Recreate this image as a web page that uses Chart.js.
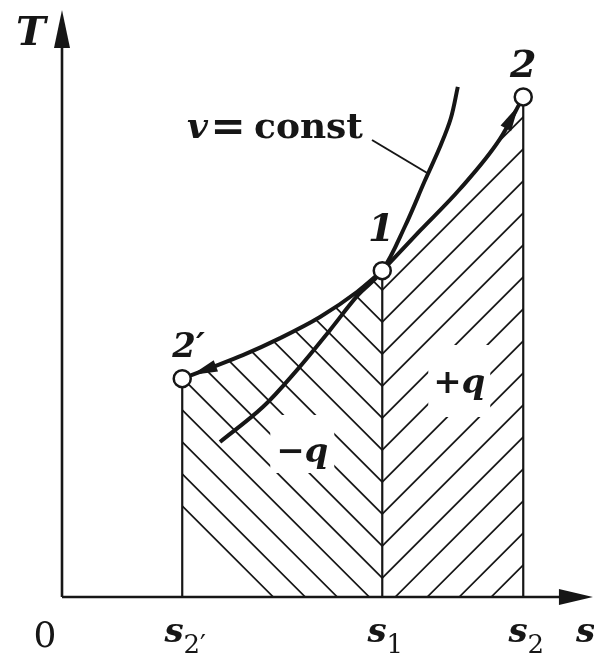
<!DOCTYPE html>
<html>
<head>
<meta charset="utf-8">
<script src="https://cdn.jsdelivr.net/npm/chart.js@4.4.0/dist/chart.umd.min.js"></script>
<style>
  html, body { margin: 0; padding: 0; background: #fff; }
  canvas { display: block; }
</style>
</head>
<body>
<canvas id="tsChart" width="594" height="658"></canvas>
<script>
// T-s diagram: heating 1-2 (+q), cooling 1-2' (-q), isochore v = const through 1
const stateNames = ['2\u2032', '1', '2'];
const stateS = [22.6, 60.2, 86.7];
const stateT = [37.2, 55.6, 85.2];
const tickSubs = ['2\u2032', '1', '2'];

const heatS = [60.2, 67.3, 74.8, 82.3, 86.7];
const heatT = [55.6, 62.4, 69.5, 78.0, 85.2];

const coolS = [60.2, 55.5, 48.5, 41.0, 34.0, 27.8, 22.6];
const coolT = [55.6, 52.0, 47.7, 44.1, 41.2, 39.0, 37.2];

const isoS = [74.4, 73.1, 71.2, 68.2, 64.5, 60.2, 55.5, 50.4, 44.2, 37.8, 29.7];
const isoT = [86.9, 81.6, 77.0, 70.9, 63.2, 55.6, 51.3, 45.5, 38.7, 32.4, 26.4];

const axisMaxS = 99.8;
const axisMaxT = 100;

const ink = '#161616';
const serif = '"DejaVu Serif", "Liberation Serif", serif';

const toPoints = (s, t) => s.map((v, i) => ({ x: v, y: t[i] }));

function curve(s, t, order) {
    return {
        data: toPoints(s, t),
        showLine: true,
        borderColor: ink,
        borderWidth: 4,
        cubicInterpolationMode: 'monotone',
        pointRadius: 0,
        fill: false,
        order: order
    };
}

function arrowHead(ctx, tipX, tipY, dx, dy, len, half) {
    const n = Math.hypot(dx, dy);
    const ux = dx / n, uy = dy / n;
    const bx = tipX - ux * len, by = tipY - uy * len;
    ctx.beginPath();
    ctx.moveTo(tipX, tipY);
    ctx.lineTo(bx - uy * half, by + ux * half);
    ctx.lineTo(bx + uy * half, by - ux * half);
    ctx.closePath();
    ctx.fill();
}

// hatch the area between a curve dataset and the s axis
function hatchUnder(chart, index, dir) {
    const ctx = chart.ctx;
    const line = chart.getDatasetMeta(index).dataset;
    const pts = line.points;
    const base = chart.scales.y.getPixelForValue(0);
    const x0 = chart.scales.x.getPixelForValue(stateS[1]);
    line.updateControlPoints(chart.chartArea, 'x');
    ctx.save();
    ctx.beginPath();
    line.path(ctx);
    ctx.lineTo(pts[pts.length - 1].x, base);
    ctx.lineTo(pts[0].x, base);
    ctx.closePath();
    ctx.clip();
    ctx.beginPath();
    for (let k = -4; k <= 24; k++) {
        const yv = base - 19 - 32 * k;
        ctx.moveTo(x0 - 500, yv + 500 * dir);
        ctx.lineTo(x0 + 500, yv - 500 * dir);
    }
    ctx.strokeStyle = ink;
    ctx.lineWidth = 1.7;
    ctx.stroke();
    ctx.restore();
}

// draw text made of runs with their own fonts
function runs(ctx, parts, x, y, align) {
    let w = 0;
    parts.forEach(p => { ctx.font = p.f; w += ctx.measureText(p.t).width; });
    let cx = align === 'center' ? x - w / 2 : x;
    ctx.textAlign = 'left';
    ctx.textBaseline = 'alphabetic';
    parts.forEach(p => {
        ctx.font = p.f;
        ctx.fillText(p.t, cx, y + (p.dy || 0));
        cx += ctx.measureText(p.t).width;
    });
    return w;
}

const diagram = {
    id: 'diagram',
    beforeDatasetsDraw(chart) {
        const ctx = chart.ctx;
        const base = chart.scales.y.getPixelForValue(0);
        const s1 = chart.scales.x.getPixelForValue(stateS[1]);
        hatchUnder(chart, 1, 1);   // +q region
        hatchUnder(chart, 2, -1);  // -q region
        // gaps in the hatching round the q labels
        ctx.save();
        ctx.fillStyle = '#fff';
        ctx.fillRect(s1 + 46, base - 252, 62, 72);
        ctx.fillRect(s1 - 112, base - 182, 64, 58);
        ctx.restore();
    },
    afterDatasetsDraw(chart) {
        const ctx = chart.ctx;
        const xs = chart.scales.x, ys = chart.scales.y;
        const ox = xs.getPixelForValue(0), oy = ys.getPixelForValue(0);
        const xEnd = xs.getPixelForValue(axisMaxS), yEnd = ys.getPixelForValue(axisMaxT);
        ctx.save();
        ctx.strokeStyle = ink;
        ctx.fillStyle = ink;

        // axes with arrows
        ctx.lineWidth = 2.6;
        ctx.beginPath();
        ctx.moveTo(ox, oy);
        ctx.lineTo(ox, yEnd + 20);
        ctx.moveTo(ox, oy);
        ctx.lineTo(xEnd - 20, oy);
        ctx.stroke();
        arrowHead(ctx, ox, yEnd, 0, -1, 38, 8);
        arrowHead(ctx, xEnd, oy, 1, 0, 34, 8);

        // arrowheads of processes 1-2 and 1-2'
        [1, 2].forEach(i => {
            const pts = chart.getDatasetMeta(i).dataset.points;
            const p = pts[pts.length - 1];
            const q = pts[pts.length - 2];
            const dx = p.x - (p.cp1x ?? q.x), dy = p.y - (p.cp1y ?? q.y);
            const n = Math.hypot(dx, dy);
            arrowHead(ctx, p.x - dx / n * 10, p.y - dy / n * 10, dx, dy, 26, 6);
        });

        // leader from v = const label to the isochore
        const iso = chart.getDatasetMeta(3).dataset;
        const hit = iso.interpolate({ x: xs.getPixelForValue(68.8) }, 'x');
        ctx.lineWidth = 2;
        ctx.beginPath();
        ctx.moveTo(372, 140);
        ctx.lineTo(hit ? hit.x : 428, hit ? hit.y : 172);
        ctx.stroke();

        // state labels
        const states = chart.getDatasetMeta(0).data;
        ctx.font = 'italic bold 38px ' + serif;
        ctx.textAlign = 'center';
        ctx.fillText(stateNames[2], states[2].x, states[2].y - 20);
        ctx.fillText(stateNames[1], states[1].x - 1, states[1].y - 30);
        ctx.textAlign = 'left';
        ctx.font = 'italic bold 34px ' + serif;
        ctx.fillText(stateNames[0], states[0].x - 10, states[0].y - 22);

        // axis names
        runs(ctx, [{ t: 'T', f: 'italic bold 40px ' + serif }], ox - 46, yEnd + 35);
        runs(ctx, [{ t: 's', f: 'italic bold 34px ' + serif }], xEnd - 17, oy + 45);
        runs(ctx, [{ t: '0', f: '36px ' + serif }], ox - 17, oy + 50, 'center');

        // s ticks
        stateS.forEach((s, i) => {
            runs(ctx, [
                { t: 's', f: 'italic bold 34px ' + serif },
                { t: tickSubs[i], f: '26px ' + serif, dy: 11 }
            ], xs.getPixelForValue(s) + 3, oy + 45, 'center');
        });

        // curve name
        runs(ctx, [{ t: 'v', f: 'italic bold 36px ' + serif }], 187, 138);
        runs(ctx, [{ t: '=', f: 'bold 42px ' + serif }], 228, 140, 'center');
        runs(ctx, [{ t: 'const', f: 'bold 36px ' + serif }], 254, 138);

        // heat labels
        const s1 = xs.getPixelForValue(stateS[1]);
        runs(ctx, [
            { t: '+', f: 'bold 34px ' + serif },
            { t: 'q', f: 'italic bold 34px ' + serif }
        ], s1 + 77, oy - 204, 'center');
        runs(ctx, [
            { t: '\u2212', f: 'bold 34px ' + serif },
            { t: 'q', f: 'italic bold 34px ' + serif }
        ], s1 - 80, oy - 135, 'center');
        ctx.restore();
    }
};

const verticals = stateS.map((s, i) => ({
    data: [{ x: s, y: 0 }, { x: s, y: stateT[i] }],
    showLine: true,
    borderColor: ink,
    borderWidth: 2.2,
    pointRadius: 0,
    order: 3
}));

new Chart(document.getElementById('tsChart'), {
    type: 'scatter',
    data: {
        datasets: [
            {
                data: toPoints(stateS, stateT),
                pointRadius: 8.5,
                backgroundColor: '#fff',
                borderColor: ink,
                borderWidth: 2.5,
                showLine: false,
                order: 0
            },
            curve(heatS, heatT, 1),
            curve(coolS, coolT, 1),
            Object.assign(curve(isoS, isoT, 2), { cubicInterpolationMode: 'default', tension: 0.35 }),
            ...verticals
        ]
    },
    options: {
        responsive: false,
        animation: false,
        devicePixelRatio: 1,
        events: [],
        layout: { autoPadding: false, padding: { left: 62, right: 0, top: 10, bottom: 61 } },
        scales: {
            x: { type: 'linear', min: 0, max: 100, display: false },
            y: { type: 'linear', min: 0, max: 100, display: false }
        },
        plugins: {
            legend: { display: false },
            tooltip: { enabled: false }
        }
    },
    plugins: [diagram]
});
</script>
</body>
</html>
